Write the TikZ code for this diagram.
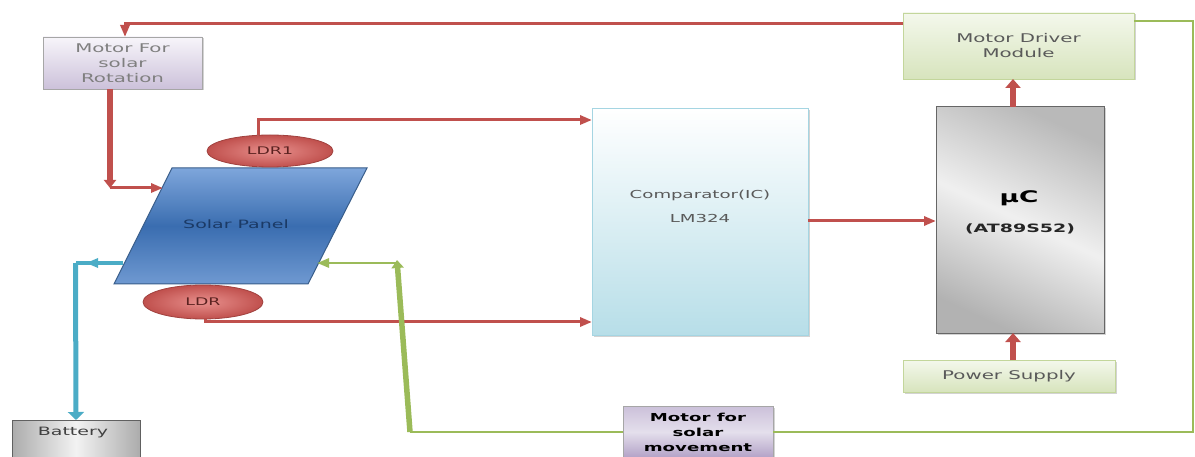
\documentclass[tikz,border=0pt]{standalone}
\usepackage{fontspec}
\setmainfont[FakeStretch=1.65]{DejaVu Sans}
\usetikzlibrary{arrows.meta,shapes.geometric,shadows}
\definecolor{ored}{HTML}{C0504D}
\definecolor{ogreen}{HTML}{9BBB59}
\definecolor{ocyan}{HTML}{4BACC6}
\definecolor{txtgray}{HTML}{595959}
\definecolor{ltgray}{HTML}{7F7F7F}
\definecolor{grnborder}{HTML}{C3D69B}
\definecolor{grnfill}{HTML}{D7E4BD}
\definecolor{grntop}{HTML}{F4F8EC}
\definecolor{lavtop}{HTML}{F7F5FA}
\definecolor{lavbot}{HTML}{CCC1DA}
\definecolor{purtop}{HTML}{CCC1DA}
\definecolor{purmid}{HTML}{E4DFEC}
\definecolor{purbot}{HTML}{B3A2C7}
\definecolor{cyanbot}{HTML}{B7DEE8}
\definecolor{cyanborder}{HTML}{A5D5E2}
\definecolor{paneltop}{HTML}{7EA6DB}
\definecolor{panelmid}{HTML}{3A6DB0}
\definecolor{panelbot}{HTML}{6F99D1}
\definecolor{panelborder}{HTML}{385D8A}
\definecolor{paneltext}{HTML}{1B3A66}
\definecolor{ldrinner}{HTML}{E8908D}
\definecolor{ldrborder}{HTML}{A0413E}
\definecolor{ldrtext}{HTML}{5A2220}
\begin{document}
\begin{tikzpicture}[x=1pt,y=-1pt,
  box/.style={rectangle,inner sep=0pt,outer sep=0pt,align=center},
  shad/.style={drop shadow={shadow xshift=1.5pt,shadow yshift=-1.5pt,opacity=0.35,fill=gray}},
  greenbox/.style={box,draw=grnborder,line width=0.8pt,top color=grntop,bottom color=grnfill,text=txtgray,font=\fontsize{12}{15}\selectfont,shad},
  rline/.style={draw=ored,line width=3pt},
  rthick/.style={draw=ored,line width=5.5pt},
  gline/.style={draw=ogreen,line width=2.8pt},
  gthick/.style={draw=ogreen,line width=5.5pt},
  cline/.style={draw=ocyan,line width=3.5pt},
  cthick/.style={draw=ocyan,line width=5pt},
  tipthin/.style={-{Triangle[length=12pt,width=9pt]}},
  tipthick/.style={-{Triangle[length=9pt,width=15pt]}},
  ldrstyle/.style={ellipse,inner sep=0pt,outer sep=0pt,draw=ldrborder,line width=0.8pt,inner color=ldrinner,outer color=ored,text=ldrtext,font=\fontsize{10.5}{12}\selectfont}
]
\useasboundingbox (0,0) rectangle (1195,457);

% ---- boxes ----
\node[box,draw=gray!70,line width=0.8pt,top color=lavtop,bottom color=lavbot,text=ltgray,
  minimum width=159pt,minimum height=52pt,font=\fontsize{12}{15}\selectfont,shad] (rot) at (122.5,63)
  {Motor For\\solar\\Rotation};

\node[greenbox,minimum width=231pt,minimum height=66pt] (drv) at (1018.5,46) {Motor Driver\\Module};

\node[box,draw=cyanborder,line width=1pt,top color=white,bottom color=cyanbot,
  minimum width=216pt,minimum height=226pt,shad] (comp) at (700,222) {};
\node[text=txtgray,font=\fontsize{11}{24}\selectfont,align=center] (comptxt) at (700,206)
  {Comparator(IC)\\LM324};

\node[box,draw=gray!80!black,line width=1pt,top color=gray!55,bottom color=gray!60,middle color=gray!12,
  shading angle=-25,minimum width=168pt,minimum height=226pt,shad] (uc) at (1020,220) {};
\node[font=\fontsize{16}{18}\selectfont\bfseries,inner sep=0pt] (uctxt) at (1019,198) {μC};
\node[font=\fontsize{11.5}{14}\selectfont\bfseries,text=black!85,inner sep=0pt] (ucpart) at (1020,229) {(AT89S52)};

\node[greenbox,minimum width=212pt,minimum height=32pt] (pwr) at (1009,376) {Power Supply};

\node[box,draw=gray!70,line width=0.8pt,top color=purtop,bottom color=purbot,middle color=purmid,
  minimum width=150pt,minimum height=51pt,font=\fontsize{11}{15}\selectfont\bfseries,shad] (mov) at (698,432)
  {Motor for\\solar\\movement};

\node[box,draw=gray!75!black,line width=1pt,left color=gray!65,right color=gray!65,middle color=gray!10,
  minimum width=128pt,minimum height=60pt] (bat) at (76,450) {};
\node[text=black!75,font=\fontsize{11.5}{14}\selectfont] (battxt) at (73,433) {Battery};

% ---- solar panel ----
\shade[top color=paneltop,bottom color=panelbot,middle color=panelmid,draw=panelborder,line width=1pt]
  (172,168) -- (367,168) -- (308,284) -- (114,284) -- cycle;
\node[text=paneltext,font=\fontsize{11.5}{14}\selectfont] (panel) at (236,224) {Solar Panel};
\coordinate (pL1) at (163,188);
\coordinate (pL2) at (123,263);
\coordinate (pR) at (317,263);

% ---- LDRs ----
\node[ldrstyle,minimum width=126pt,minimum height=32pt] (ldr1) at (270,151) {LDR1};
\node[ldrstyle,minimum width=120pt,minimum height=34pt] (ldr) at (203,302) {LDR};

% ---- red connectors ----
\draw[rline,tipthin] ([yshift=22pt]drv.west) -| ([xshift=2.5pt]rot.north);
\coordinate (c1) at (110,188);
\draw[rthick,-{Triangle[length=8pt,width=12pt]}] ([xshift=-12.5pt]rot.south) -- (c1);
\draw[rline,tipthin] (c1) -- (pL1);
\draw[rline,tipthin] ([xshift=-12pt]ldr1.north) |- ([yshift=102pt]comp.west);
\draw[rline,tipthin] ([xshift=2pt]ldr.south) |- ([yshift=-100pt]comp.west);
\draw[rline,tipthin] ([yshift=1pt]comp.east) -- ([yshift=1pt]comp.east -| uc.west);
\draw[rthick,tipthick] ([xshift=-7pt]uc.north) -- ([xshift=-7pt]uc.north |- drv.south);
\draw[rthick,tipthick] ([xshift=4pt]pwr.north) -- ([xshift=4pt]pwr.north |- uc.south);

% ---- green connectors ----
\coordinate (gR) at (1193,432);
\coordinate (g1) at (410,432);
\coordinate (g2) at (397,260);
\coordinate (g3) at (397,263);
\draw[gline] ([yshift=25pt]drv.east) -| (gR) -- (mov.east);
\draw[gline] (mov.west) -- (g1);
\draw[gthick,-{Triangle[length=8pt,width=12pt]}] (g1) -- (g2);
\draw[gline,tipthin] (g3) -- (pR);

% ---- cyan connectors ----
\coordinate (c3) at (76,263);
\coordinate (c4) at (86,263);
\draw[cline] (pL2) -- (c3);
\draw[cline,tipthin] (pL2) -- (c4);
\draw[cthick,-{Triangle[length=8pt,width=16pt]}] ([xshift=-0.5pt]c3) -- (bat.north);
\end{tikzpicture}
\end{document}
